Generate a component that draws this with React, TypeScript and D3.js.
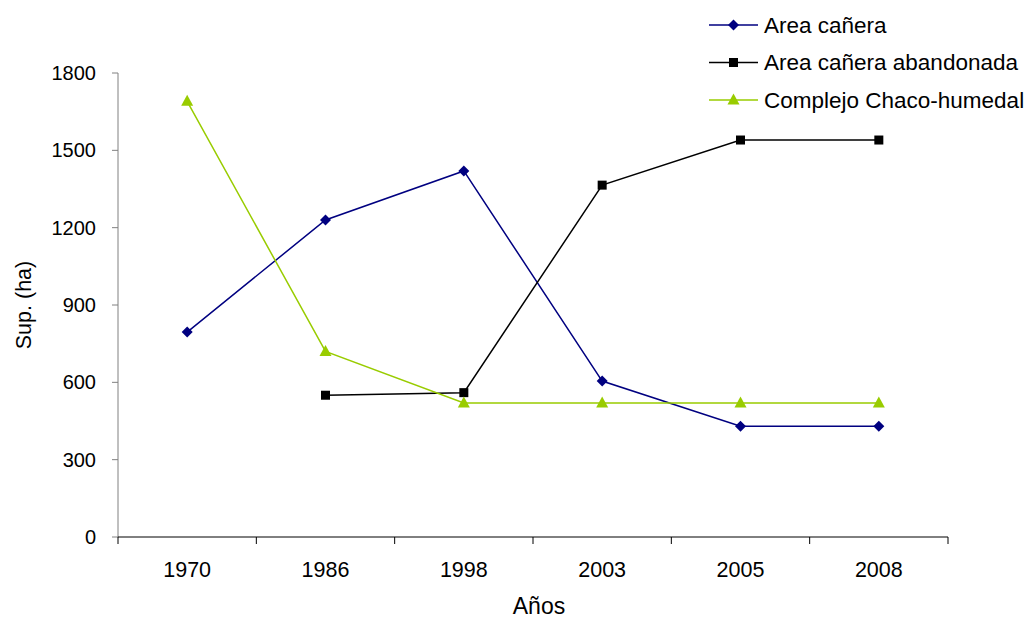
import React from "react";
import * as d3 from "d3";

const years = ["1970", "1986", "1998", "2003", "2005", "2008"];
const areaCanera: (number | null)[] = [795, 1230, 1420, 605, 430, 430];
const areaAbandonada: (number | null)[] = [null, 550, 560, 1365, 1540, 1540];
const chacoHumedal: (number | null)[] = [1690, 720, 520, 520, 520, 520];
const yTicks = [0, 300, 600, 900, 1200, 1500, 1800];

const series = [
  { name: "Area cañera", values: areaCanera, color: "#000080", marker: "diamond" },
  { name: "Area cañera abandonada", values: areaAbandonada, color: "#000000", marker: "square" },
  { name: "Complejo Chaco-humedal", values: chacoHumedal, color: "#99CC00", marker: "triangle" },
];

const W = 1031, H = 618;
const left = 118, right = 948, top = 73, bottom = 537;
const font = "Liberation Sans, Arial, sans-serif";

function Marker({ type, x, y, color }: { type: string; x: number; y: number; color: string }) {
  if (type === "diamond") {
    const s = 5.5;
    return <path d={`M${x},${y - s}L${x + s},${y}L${x},${y + s}L${x - s},${y}Z`} fill={color} />;
  }
  if (type === "square") {
    return <rect x={x - 4.5} y={y - 4.5} width={9} height={9} fill={color} />;
  }
  return <path d={`M${x},${y - 6.5}L${x + 6},${y + 4.5}L${x - 6},${y + 4.5}Z`} fill={color} />;
}

export default function App() {
  const x = d3.scaleBand<string>().domain(years).range([left, right]);
  const y = d3.scaleLinear().domain([0, 1800]).range([bottom, top]);
  const cx = (d: string) => (x(d) as number) + x.bandwidth() / 2;

  return (
    <svg width={W} height={H} style={{ position: "absolute", left: 0, top: 0, background: "#fff" }}>
      {/* Y axis */}
      <line x1={left} x2={left} y1={top} y2={bottom} stroke="#808080" strokeWidth={1} />
      {yTicks.map((t) => (
        <g key={t}>
          <line x1={left - 6} x2={left} y1={y(t)} y2={y(t)} stroke="#808080" />
          <text x={96} y={y(t)} dy="0.35em" textAnchor="end" fontFamily={font} fontSize={20} fill="#000">
            {t}
          </text>
        </g>
      ))}
      {/* X axis */}
      <line x1={left} x2={right} y1={bottom} y2={bottom} stroke="#000" strokeWidth={1} />
      {years.map((yr, i) => (
        <line key={"t" + i} x1={x(yr) as number} x2={x(yr) as number} y1={bottom} y2={bottom + 7} stroke="#000" />
      ))}
      <line x1={right} x2={right} y1={bottom} y2={bottom + 7} stroke="#000" />
      {years.map((yr) => (
        <text key={yr} x={cx(yr)} y={577} textAnchor="middle" fontFamily={font} fontSize={21.5} fill="#000">
          {yr}
        </text>
      ))}
      <text x={539} y={614} textAnchor="middle" fontFamily={font} fontSize={23} fill="#000">
        Años
      </text>
      <text
        transform={`translate(31,305) rotate(-90)`}
        textAnchor="middle"
        fontFamily={font}
        fontSize={21.5}
        fill="#000"
      >
        Sup. (ha)
      </text>

      {/* Lines */}
      {series.map((s) => {
        const pts = years
          .map((yr, i) => ({ yr, v: s.values[i] }))
          .filter((p) => p.v !== null) as { yr: string; v: number }[];
        const line = d3
          .line<{ yr: string; v: number }>()
          .x((p) => cx(p.yr))
          .y((p) => y(p.v));
        return (
          <g key={s.name}>
            <path d={line(pts) || ""} fill="none" stroke={s.color} strokeWidth={1.5} />
            {pts.map((p) => (
              <Marker key={p.yr} type={s.marker} x={cx(p.yr)} y={y(p.v)} color={s.color} />
            ))}
          </g>
        );
      })}

      {/* Legend */}
      {series.map((s, i) => {
        const ly = 25 + i * 37.5;
        return (
          <g key={"l" + s.name}>
            <line x1={709} x2={758} y1={ly} y2={ly} stroke={s.color} strokeWidth={1.5} />
            <Marker type={s.marker} x={733.5} y={ly} color={s.color} />
            <text x={764} y={ly} dy="0.35em" fontFamily={font} fontSize={22.5} fill="#000">
              {s.name}
            </text>
          </g>
        );
      })}
    </svg>
  );
}
